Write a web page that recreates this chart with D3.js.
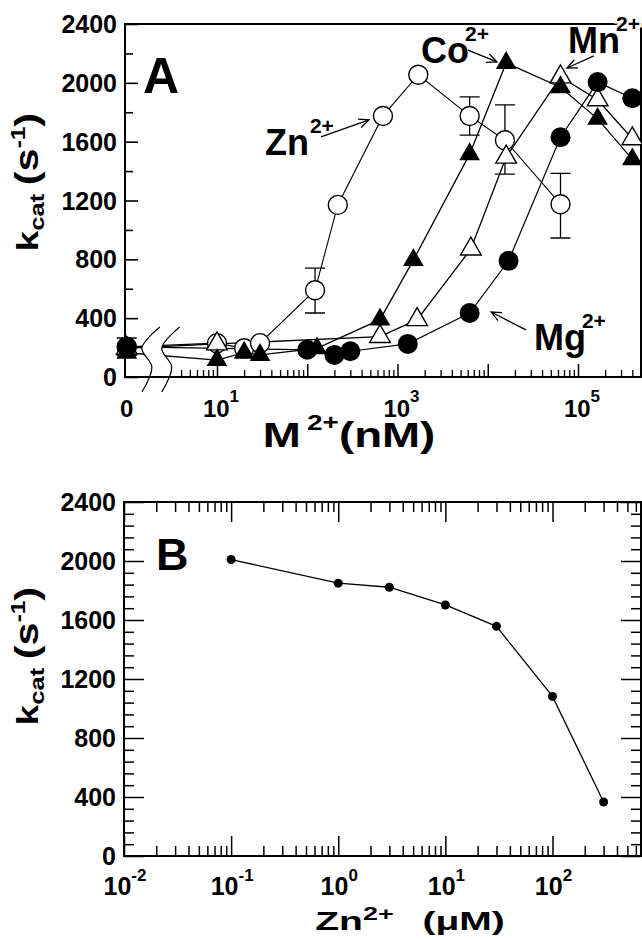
<!DOCTYPE html>
<html>
<head>
<meta charset="utf-8">
<script src="https://cdn.jsdelivr.net/npm/d3@7"></script>
<style>
  body { margin: 0; background: #fff; }
  svg { display: block; }
  text { font-family: "Liberation Sans", Arial, Helvetica, sans-serif; font-weight: bold; fill: #000; }
</style>
</head>
<body>
<svg id="fig" width="642" height="940"></svg>
<script>
// ---------- panel A : kcat vs metal ion (nM); 0 is drawn at the axis break ----------
const znConc = [0, 10, 20, 30, 122, 218, 690, 1700, 6300, 15500, 64000];
const znKcat = [205, 230, 195, 230, 590, 1170, 1775, 2055, 1775, 1610, 1175];
const znErrConc = [0, 122, 6300, 15500, 64000];
const znErrLow = [145, 435, 1645, 1380, 945];
const znErrHigh = [265, 740, 1905, 1850, 1385];

const coConc = [0, 10, 20, 30, 128, 640, 1500, 6300, 16000, 64000, 165000, 400000];
const coKcat = [165, 115, 165, 150, 195, 390, 795, 1515, 2135, 1970, 1755, 1480];

const mnConc = [0, 10, 640, 1650, 6500, 16000, 64000, 165000, 400000];
const mnKcat = [195, 225, 275, 390, 870, 1495, 2040, 1885, 1620];

const mgConc = [0, 100, 200, 300, 1300, 6300, 17000, 64000, 165000, 400000];
const mgKcat = [205, 185, 150, 175, 225, 435, 790, 1630, 2005, 1895];

// ion labels and arrows (data coordinates)
const ionNames = ["Zn", "Co", "Mn", "Mg"];
const ionTextConc = [34, 1820, 77500, 32500];
const ionTextKcat = [1510, 2135, 2203, 184];
const arrowTailConc = [142, 6040, 150000, 26500];
const arrowTailKcat = [1632, 2223, 2183, 320];
const arrowTipConc = [484, 12650, 75500, 10900];
const arrowTipKcat = [1748, 2142, 2101, 442];

const kcatMajor = [0, 400, 800, 1200, 1600, 2000, 2400];
const kcatMinorA = [200, 600, 1000, 1400, 1800, 2200];
const kcatMinorB = d3.range(0, 2401, 80).filter(v => v % 400 !== 0);
const decadesA = [10, 100, 1e3, 1e4, 1e5];
const labelExpA = [1, 3, 5];
const breakAt = [2.05, 3.4];

// ---------- panel B : kcat vs Zn2+ (uM) ----------
const znB = [0.1, 1, 3, 10, 30, 100, 300];
const kcatB = [2010, 1850, 1822, 1702, 1557, 1082, 366];
const decadesB = [0.01, 0.1, 1, 10, 100];
const labelExpB = ["-2", "-1", "0", "1", "2"];

const svg = d3.select("#fig");

const xA = d3.scaleLog().domain([1, 1e5]).range([126.75, 578]);
const yA = d3.scaleLinear().domain([0, 2400]).range([377, 24]);
const xB = d3.scaleLog().domain([0.01, 100]).range([124, 552.5]);
const yB = d3.scaleLinear().domain([0, 2400]).range([856, 502]);
const RIGHT = 641;

const pos = c => xA(c === 0 ? 1 : c);

function minorLogTicks(lo, hi, keep) {
  const out = [];
  for (let d = lo; d <= hi; d *= 10) {
    for (let m = 2; m <= 9; m++) {
      const v = +(d * m).toPrecision(3);
      if (keep(v)) out.push(v);
    }
  }
  return out;
}

function cleanAxis(g, width) {
  g.select(".domain").remove();
  g.selectAll("line").attr("stroke", "#000").attr("stroke-width", width);
}

function powLabel(g, x, y, base, exp, fs, efs, rise) {
  const t = g.append("text").attr("x", x).attr("y", y)
    .attr("text-anchor", "middle").style("font-size", fs + "px");
  t.append("tspan").text(base);
  if (exp !== "") t.append("tspan").attr("dy", -rise).style("font-size", efs + "px").text(exp);
}

function kcatTitle(cy) {
  const t = svg.append("text")
    .attr("transform", `translate(38,${cy}) rotate(-90) scale(1.22,1)`)
    .attr("text-anchor", "middle").style("font-size", "30px");
  t.append("tspan").text("k");
  t.append("tspan").attr("dy", 6).style("font-size", "21px").text("cat");
  t.append("tspan").attr("dy", -6).attr("dx", 7).style("font-size", "34px").text("(s");
  t.append("tspan").attr("dy", -13).style("font-size", "20px").text("-1");
  t.append("tspan").attr("dy", 13).style("font-size", "34px").text(")");
}

// =================== PANEL A ===================
const gA = svg.append("g");

const series = [
  { c: znConc, k: znKcat, w: 1.1 },
  { c: mgConc, k: mgKcat, w: 1.2 },
  { c: coConc, k: coKcat, w: 1.3 },
  { c: mnConc, k: mnKcat, w: 1.3 }
];

const lineA = d3.line().x(d => pos(d[0])).y(d => yA(d[1]));
series.forEach(s => {
  gA.append("path")
    .datum(s.c.map((c, i) => [c, s.k[i]]))
    .attr("d", lineA)
    .attr("fill", "none").attr("stroke", "#000").attr("stroke-width", s.w);
});

// axis break: blank the lines between two wavy strokes
const breakShape = [[5, -50], [-13, -29], [-3, -10], [-13, 15]];
const breakLine = d3.line().curve(d3.curveCatmullRom);
const b1 = breakShape.map(p => [xA(breakAt[0]) + p[0], yA(0) + p[1]]);
const b2 = breakShape.map(p => [xA(breakAt[1]) + p[0], yA(0) + p[1]]);
gA.append("path")
  .attr("d", breakLine(b1) + "L" + breakLine(b2.slice().reverse()).slice(1) + "Z")
  .attr("fill", "#fff");
[b1, b2].forEach(b => {
  gA.append("path").attr("d", breakLine(b)).attr("fill", "none")
    .attr("stroke", "#000").attr("stroke-width", 1.2);
});

// frame + ticks
gA.append("rect").attr("x", 125).attr("y", yA(2400))
  .attr("width", RIGHT - 125).attr("height", yA(0) - yA(2400))
  .attr("fill", "none").attr("stroke", "#000").attr("stroke-width", 2);

gA.append("g").attr("transform", "translate(125,0)")
  .call(d3.axisLeft(yA).tickValues(kcatMajor).tickSize(-13).tickFormat(""))
  .call(g => cleanAxis(g, 1.6));
gA.append("g").attr("transform", "translate(125,0)")
  .call(d3.axisLeft(yA).tickValues(kcatMinorA).tickSize(-8).tickFormat(""))
  .call(g => cleanAxis(g, 1.6));

const minorA = minorLogTicks(1, 1e5, v => v >= 4 && xA(v) < RIGHT);
gA.append("g").attr("transform", `translate(0,${yA(0)})`)
  .call(d3.axisBottom(xA).tickValues(minorA).tickSize(-7).tickFormat(""))
  .call(g => cleanAxis(g, 1.3));
gA.append("g").attr("transform", `translate(0,${yA(0)})`)
  .call(d3.axisBottom(xA).tickValues(decadesA).tickSize(-13).tickFormat(""))
  .call(g => cleanAxis(g, 1.5));

kcatMajor.forEach(v => {
  gA.append("text").attr("x", 117).attr("y", yA(v)).attr("dy", "0.36em")
    .attr("text-anchor", "end").style("font-size", "25px").text(v);
});
powLabel(gA, pos(0), 417, "0", "", 24, 17, 15);
labelExpA.forEach(e => powLabel(gA, xA(Math.pow(10, e)) + 4, 417, "10", String(e), 24, 17, 15));

// error bars (Zn)
znErrConc.forEach((c, i) => {
  const x = pos(c);
  gA.append("path")
    .attr("d", `M${x},${yA(znErrLow[i])}V${yA(znErrHigh[i])}` +
      `M${x - 10},${yA(znErrLow[i])}H${x + 10}M${x - 10},${yA(znErrHigh[i])}H${x + 10}`)
    .attr("fill", "none").attr("stroke", "#000").attr("stroke-width", 1.3);
});

// markers (open symbols first, filled ones on top)
const tri = d3.symbol().type(d3.symbolTriangle).size(185);
znConc.forEach((c, i) => {
  gA.append("circle").attr("cx", pos(c)).attr("cy", yA(znKcat[i])).attr("r", 9.5)
    .attr("fill", "#fff").attr("stroke", "#000").attr("stroke-width", 1.4);
});
mnConc.forEach((c, i) => {
  gA.append("path").attr("d", tri)
    .attr("transform", `translate(${pos(c)},${yA(mnKcat[i])})`)
    .attr("fill", "#fff").attr("stroke", "#000").attr("stroke-width", 1.4);
});
mgConc.forEach((c, i) => {
  gA.append("circle").attr("cx", pos(c)).attr("cy", yA(mgKcat[i])).attr("r", 10)
    .attr("fill", "#000");
});
coConc.forEach((c, i) => {
  gA.append("path").attr("d", tri)
    .attr("transform", `translate(${pos(c)},${yA(coKcat[i])})`).attr("fill", "#000");
});

// ion labels with arrows
ionNames.forEach((name, i) => {
  const t = gA.append("text").attr("x", xA(ionTextConc[i])).attr("y", yA(ionTextKcat[i]))
    .style("font-size", "36px");
  t.append("tspan").text(name);
  const sup = t.append("tspan").attr("dx", i === 0 ? 1 : -4).attr("dy", -22)
    .style("font-size", "21px").text("2+");
  if (name === "Mn") sup.attr("stroke", "#fff").attr("stroke-width", 5).style("paint-order", "stroke");

  const x0 = xA(arrowTailConc[i]), y0 = yA(arrowTailKcat[i]);
  const x1 = xA(arrowTipConc[i]), y1 = yA(arrowTipKcat[i]);
  const a = Math.atan2(y1 - y0, x1 - x0);
  const h = 11, sp = 0.42;
  gA.append("path")
    .attr("d", `M${x0},${y0}L${x1},${y1}` +
      `M${x1 - h * Math.cos(a - sp)},${y1 - h * Math.sin(a - sp)}L${x1},${y1}` +
      `L${x1 - h * Math.cos(a + sp)},${y1 - h * Math.sin(a + sp)}`)
    .attr("fill", "none").attr("stroke", "#000").attr("stroke-width", 1.3);
});

gA.append("text").attr("x", 143).attr("y", 93).style("font-size", "50px").text("A");

kcatTitle(182);

const tA = svg.append("text").attr("transform", "translate(349,447) scale(1.27,1)")
  .attr("text-anchor", "middle").style("font-size", "36px");
tA.append("tspan").text("M");
tA.append("tspan").attr("dx", 5).attr("dy", -17).style("font-size", "22px").text("2+");
tA.append("tspan").attr("dy", 17).text("(nM)");

// =================== PANEL B ===================
const gB = svg.append("g");

gB.append("rect").attr("x", 124).attr("y", yB(2400))
  .attr("width", RIGHT - 124).attr("height", yB(0) - yB(2400))
  .attr("fill", "none").attr("stroke", "#000").attr("stroke-width", 2);

const minorB = minorLogTicks(0.01, 100, v => xB(v) < RIGHT - 1);
[[d3.axisLeft, 124], [d3.axisRight, RIGHT]].forEach(([ax, x]) => {
  gB.append("g").attr("transform", `translate(${x},0)`)
    .call(ax(yB).tickValues(kcatMajor).tickSize(-20).tickFormat(""))
    .call(g => cleanAxis(g, 1.5));
  gB.append("g").attr("transform", `translate(${x},0)`)
    .call(ax(yB).tickValues(kcatMinorB).tickSize(-10).tickFormat(""))
    .call(g => cleanAxis(g, 1.5));
});
[[d3.axisBottom, yB(0)], [d3.axisTop, yB(2400)]].forEach(([ax, y]) => {
  gB.append("g").attr("transform", `translate(0,${y})`)
    .call(ax(xB).tickValues(decadesB).tickSize(-20).tickFormat(""))
    .call(g => cleanAxis(g, 1.5));
  gB.append("g").attr("transform", `translate(0,${y})`)
    .call(ax(xB).tickValues(minorB).tickSize(-10).tickFormat(""))
    .call(g => cleanAxis(g, 1.5));
});

kcatMajor.forEach(v => {
  gB.append("text").attr("x", 116).attr("y", yB(v)).attr("dy", "0.36em")
    .attr("text-anchor", "end").style("font-size", "25px").text(v);
});
decadesB.forEach((d, i) => powLabel(gB, xB(d) + 1, 895, "10", labelExpB[i], 25, 17, 14));

gB.append("path")
  .datum(znB.map((c, i) => [c, kcatB[i]]))
  .attr("d", d3.line().x(d => xB(d[0])).y(d => yB(d[1])))
  .attr("fill", "none").attr("stroke", "#000").attr("stroke-width", 1.3);
znB.forEach((c, i) => {
  gB.append("circle").attr("cx", xB(c)).attr("cy", yB(kcatB[i])).attr("r", 4.5).attr("fill", "#000");
});

gB.append("text").attr("x", 156).attr("y", 570).style("font-size", "45px").text("B");

kcatTitle(656);

const tB = svg.append("text").attr("transform", "translate(410,930) scale(1.5,1)")
  .attr("text-anchor", "middle").style("font-size", "26px");
tB.append("tspan").text("Zn");
tB.append("tspan").attr("dy", -10).style("font-size", "18px").text("2+");
tB.append("tspan").attr("dx", 12).attr("dy", 10).text(" (\u03bcM)");
</script>
</body>
</html>
